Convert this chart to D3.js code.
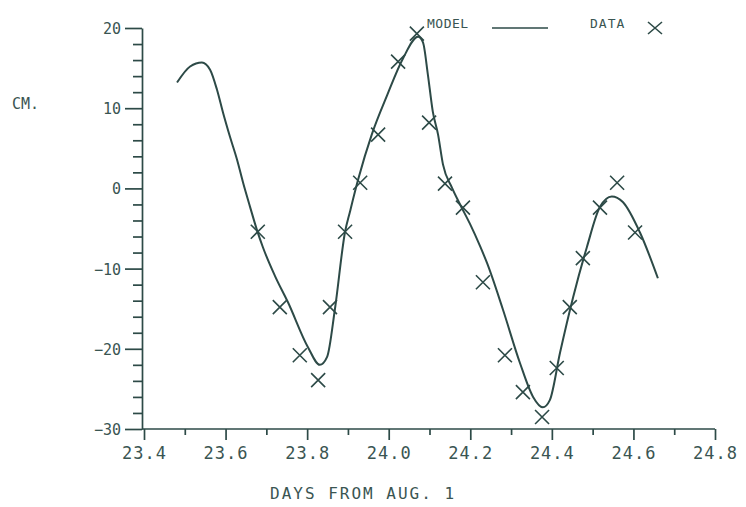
<!DOCTYPE html>
<html>
<head>
<meta charset="utf-8">
<script src="https://cdn.jsdelivr.net/npm/d3@7/dist/d3.min.js"></script>
<style>
  body { margin: 0; background: #fff; }
  text { font-family: "DejaVu Sans Mono", monospace; fill: #3a5552; }
  .axis path, .axis line { stroke: #2d4a47; stroke-width: 1.7; }
</style>
</head>
<body>
<div class="chart"></div>
<script>
const width = 746;
const height = 507;

// measured data points (days from Aug. 1, cm)
const dataDays = [23.679, 23.733, 23.782, 23.827, 23.856, 23.893, 23.930, 23.974, 24.023, 24.069, 24.099, 24.138,
    24.182, 24.231, 24.285, 24.329, 24.376, 24.412, 24.444, 24.476, 24.518, 24.560, 24.604];
const dataCm = [-5.4, -14.8, -20.8, -23.9, -14.8, -5.4, 0.7, 6.7, 15.8, 19.3, 8.2, 0.6,
    -2.4, -11.7, -20.8, -25.4, -28.5, -22.4, -14.8, -8.7, -2.4, 0.7, -5.5];

// model curve
const modelDays = [23.481, 23.513, 23.542, 23.562, 23.579, 23.594, 23.611, 23.628, 23.643, 23.660, 23.677, 23.692,
    23.721, 23.753, 23.802, 23.831, 23.849, 23.868, 23.893, 23.905, 23.925, 23.959, 23.996, 24.035, 24.072,
    24.084, 24.096, 24.108, 24.121, 24.133, 24.155, 24.175, 24.199, 24.224, 24.241, 24.280, 24.322, 24.354,
    24.378, 24.395, 24.420, 24.452, 24.486, 24.518, 24.547, 24.574, 24.616, 24.660];
const modelCm = [13.2, 15.2, 15.7, 14.8, 12.3, 9.4, 6.4, 3.6, 0.7, -2.3, -5.2, -7.4,
    -10.9, -14.2, -19.8, -22.0, -21.0, -15.1, -5.4, -2.9, 1.1, 6.8, 11.6, 16.2, 18.9,
    18.2, 14.2, 9.6, 6.7, 3.0, 0.1, -2.0, -4.4, -7.2, -9.3, -15.1, -21.8, -26.0,
    -27.3, -26.4, -20.5, -13.6, -7.3, -2.3, -1.0, -1.7, -5.5, -11.2];

const xTicks = [23.4, 23.6, 23.8, 24.0, 24.2, 24.4, 24.6, 24.8];
const xMinor = [23.5, 23.7, 23.9, 24.1, 24.3, 24.5, 24.7];
const yTicks = [-30, -20, -10, 0, 10, 20];
const yMinor = d3.range(-28, 20, 2).filter(v => v % 10 !== 0);

const ink = "#2d4a47";

let svg = d3.select(".chart")
    .append("svg")
    .attr("width", width)
    .attr("height", height);

let x = d3.scaleLinear().domain([23.4, 24.8]).range([144, 715]);
let y = d3.scaleLinear().domain([-30, 20]).range([429, 28]);
const axisX = 142;

// y axis: minor ticks first, then major with labels
svg.append("g").attr("class", "axis")
    .attr("transform", `translate(${axisX},0)`)
    .call(d3.axisLeft(y).tickValues(yMinor).tickSize(9).tickSizeOuter(0).tickFormat(""))
    .call(g => g.select(".domain").remove());

svg.append("g").attr("class", "axis")
    .attr("transform", `translate(${axisX},0)`)
    .call(d3.axisLeft(y).tickValues(yTicks).tickSize(17).tickSizeOuter(0).tickPadding(4)
        .tickFormat(d3.format("d")))
    .call(g => g.selectAll("text").style("font-size", "15px").attr("dy", "0.36em"));

// x axis
svg.append("g").attr("class", "axis")
    .attr("transform", "translate(0,429)")
    .call(d3.axisBottom(x).tickValues(xMinor).tickSize(6).tickSizeOuter(0).tickFormat(""))
    .call(g => g.select(".domain").remove());

svg.append("g").attr("class", "axis")
    .attr("transform", "translate(0,429)")
    .call(d3.axisBottom(x).tickValues(xTicks).tickSize(11).tickSizeOuter(0).tickPadding(7)
        .tickFormat(d3.format(".1f")))
    .call(g => g.select(".domain").attr("d", `M${axisX},0H${x(24.8)}`))
    .call(g => g.selectAll("text").style("font-size", "17px").style("letter-spacing", "1px"));

// axis titles
svg.append("text")
    .attr("x", 12)
    .attr("y", 109)
    .style("font-size", "15px")
    .text("CM.");

svg.append("text")
    .attr("x", 270)
    .attr("y", 499)
    .style("font-size", "16px")
    .style("letter-spacing", "2px")
    .text("DAYS FROM AUG. 1");

// model curve
let modelPts = modelDays.map((d, i) => [d, modelCm[i]]);
let line = d3.line()
    .x(d => x(d[0]))
    .y(d => y(d[1]))
    .curve(d3.curveMonotoneX);

svg.append("path")
    .datum(modelPts)
    .attr("d", line)
    .attr("fill", "none")
    .attr("stroke", ink)
    .attr("stroke-width", 2);

// data crosses
let dataPts = dataDays.map((d, i) => ({ day: d, cm: dataCm[i] }));

svg.selectAll(".pt")
    .data(dataPts)
    .enter()
    .append("path")
    .attr("class", "pt")
    .attr("transform", d => `translate(${x(d.day)},${y(d.cm)})`)
    .attr("d", "M-7,-7L7,7M-7,7L7,-7")
    .attr("stroke", ink)
    .attr("stroke-width", 1.6)
    .attr("fill", "none");

// legend
let legend = svg.append("g");
legend.append("text")
    .attr("x", 427)
    .attr("y", 28)
    .style("font-size", "13px")
    .style("letter-spacing", "0.5px")
    .text("MODEL");
legend.append("line")
    .attr("x1", 492).attr("x2", 548)
    .attr("y1", 28).attr("y2", 28)
    .attr("stroke", ink)
    .attr("stroke-width", 1.6);
legend.append("text")
    .attr("x", 590)
    .attr("y", 28)
    .style("font-size", "13px")
    .style("letter-spacing", "1px")
    .text("DATA");
legend.append("path")
    .attr("transform", "translate(655,28)")
    .attr("d", "M-7,-6L7,6M-7,6L7,-6")
    .attr("stroke", ink)
    .attr("stroke-width", 1.6)
    .attr("fill", "none");
</script>
</body>
</html>
